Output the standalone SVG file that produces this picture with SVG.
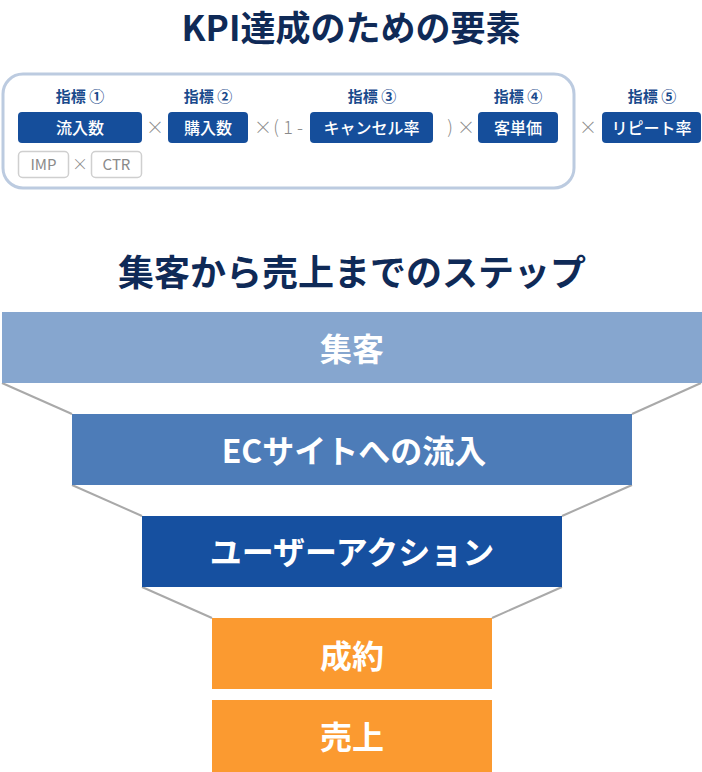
<svg xmlns="http://www.w3.org/2000/svg" width="702" height="772" viewBox="0 0 702 772">
<style>
text{font-family:"Noto Sans CJK JP","Noto Sans",sans-serif;}
.title{font-size:35px;font-weight:700;fill:#0f2a57;text-anchor:middle;}
.lbl{font-size:15px;font-weight:700;fill:#1a4a8c;text-anchor:middle;}
.pill{fill:#154e9b;}
.pt{font-size:16px;font-weight:500;fill:#ffffff;text-anchor:middle;}
.op{font-size:18px;fill:#8a8a8a;text-anchor:middle;font-weight:300;}
.sub{fill:#ffffff;stroke:#cfcfcf;stroke-width:1.5;}
.st{font-size:15px;fill:#8a8a8a;text-anchor:middle;}
.step{font-size:32px;font-weight:700;fill:#ffffff;text-anchor:middle;}
.conn{stroke:#a9a9a9;stroke-width:2;fill:none;}
</style>
<text class="title" x="351" y="41">KPI達成のための要素</text>
<rect x="3" y="74" width="571" height="114" rx="20" fill="#ffffff" stroke="#bccbe0" stroke-width="3"/>
<g id="kpi1">
<text class="lbl" x="80" y="102">指標 ①</text>
<rect class="pill" x="18" y="112" width="124" height="31" rx="4"/>
<text class="pt" x="80" y="134">流入数</text>
</g>
<g id="imp">
<rect class="sub" x="18.5" y="151.5" width="50" height="26" rx="4"/>
<text class="st" x="43.5" y="170">IMP</text>
</g>
<text class="op" x="80" y="170" style="font-size:16px">×</text>
<g id="ctr">
<rect class="sub" x="91.5" y="151.5" width="50" height="26" rx="4"/>
<text class="st" x="116.5" y="170">CTR</text>
</g>
<text class="op" x="155" y="134">×</text>
<g id="kpi2">
<text class="lbl" x="208" y="102">指標 ②</text>
<rect class="pill" x="168" y="112" width="80" height="31" rx="4"/>
<text class="pt" x="208" y="134">購入数</text>
</g>
<text class="op" x="263" y="134">×</text>
<text class="op" x="276" y="134">(</text>
<text class="op" x="288" y="134">1</text>
<text class="op" x="300" y="134">-</text>
<g id="kpi3">
<text class="lbl" x="372" y="102">指標 ③</text>
<rect class="pill" x="310" y="112" width="123" height="31" rx="4"/>
<text class="pt" x="371.5" y="134">キャンセル率</text>
</g>
<text class="op" x="450" y="134">)</text>
<text class="op" x="466" y="134">×</text>
<g id="kpi4">
<text class="lbl" x="518" y="102">指標 ④</text>
<rect class="pill" x="478" y="112" width="80" height="31" rx="4"/>
<text class="pt" x="518" y="134">客単価</text>
</g>
<text class="op" x="588" y="134">×</text>
<g id="kpi5">
<text class="lbl" x="652" y="102">指標 ⑤</text>
<rect class="pill" x="602" y="112" width="99" height="31" rx="4"/>
<text class="pt" x="651.5" y="134">リピート率</text>
</g>
<text class="title" x="352" y="286" style="font-size:36px">集客から売上までのステップ</text>
<g id="connectors">
<line class="conn" x1="2" y1="383" x2="72" y2="414"/>
<line class="conn" x1="701" y1="383" x2="632" y2="414"/>
<line class="conn" x1="72" y1="485" x2="142" y2="516"/>
<line class="conn" x1="632" y1="485" x2="562" y2="516"/>
<line class="conn" x1="142" y1="587" x2="212" y2="618"/>
<line class="conn" x1="562" y1="587" x2="492" y2="618"/>
</g>
<g id="step1">
<rect x="2" y="312" width="700" height="71" fill="#86a6cf"/>
<text class="step" x="352" y="361">集客</text>
</g>
<g id="step2">
<rect x="72" y="414" width="560" height="71" fill="#4d7cb8"/>
<text class="step" x="354" y="463">ECサイトへの流入</text>
</g>
<g id="step3">
<rect x="142" y="516" width="420" height="71" fill="#1650a0"/>
<text class="step" x="352" y="564">ユーザーアクション</text>
</g>
<g id="step4">
<rect x="212" y="618" width="280" height="71" fill="#fb9a30"/>
<text class="step" x="352" y="668">成約</text>
</g>
<g id="step5">
<rect x="212" y="700" width="280" height="72" fill="#fb9a30"/>
<text class="step" x="352" y="749">売上</text>
</g>
</svg>
